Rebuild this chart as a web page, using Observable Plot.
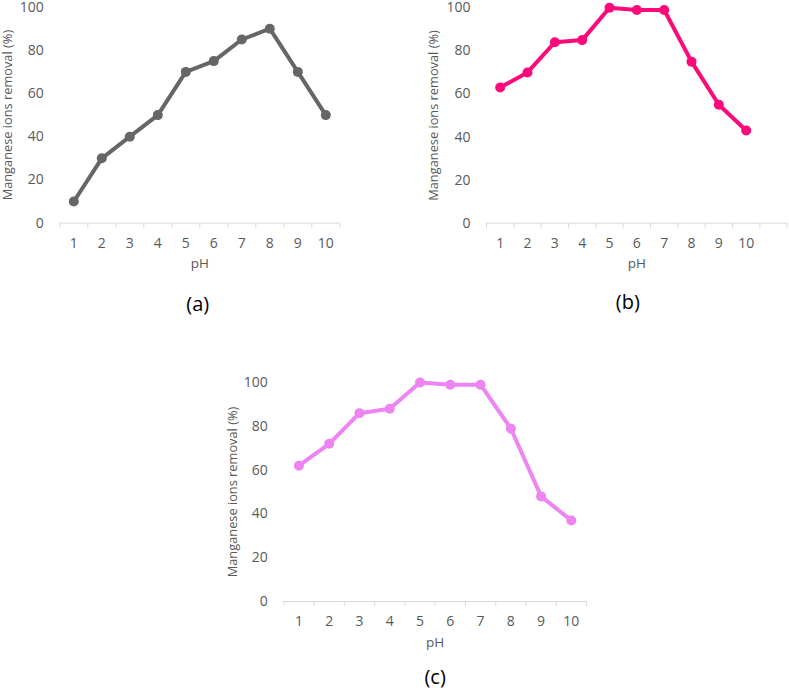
<!DOCTYPE html>
<html>
<head>
<meta charset="utf-8">
<script src="https://cdn.jsdelivr.net/npm/d3@7"></script>
<script src="https://cdn.jsdelivr.net/npm/@observablehq/plot@0.6"></script>
<style>
  html, body { margin: 0; padding: 0; background: #fff; }
  #wrap { position: relative; width: 789px; height: 691px; overflow: hidden; }
  .panel { position: absolute; }
</style>
</head>
<body>
<div id="wrap"></div>
<script>
const ph = [1, 2, 3, 4, 5, 6, 7, 8, 9, 10];
const removalA = [10, 30, 40, 50, 70, 75, 85, 90, 70, 50];
const removalB = [63, 70, 84, 85, 100, 99, 99, 75, 55, 43];
const removalC = [62, 72, 86, 88, 100, 99, 99, 79, 48, 37];
const yTicks = [0, 20, 40, 60, 80, 100];
const yLabel = "Manganese ions removal (%)";
const xLabel = "pH";
const captions = ["(a)", "(b)", "(c)"];

function panel(values, cfg) {
  const data = ph.map((p, i) => ({ph: p, v: values[i]}));
  const nBands = cfg.bands;
  const bounds = d3.range(nBands + 1).map(i => i + 0.5);
  return Plot.plot({
    width: cfg.width,
    height: cfg.height,
    marginLeft: cfg.ml,
    marginRight: cfg.mr,
    marginTop: cfg.mt,
    marginBottom: cfg.mb,
    style: {fontFamily: "'Open Sans', sans-serif", fontSize: "14px", color: "#595959", background: "transparent", overflow: "visible"},
    x: {type: "linear", domain: [0.5, nBands + 0.5]},
    y: {domain: [0, 100]},
    marks: [
      Plot.ruleY([0], {stroke: "#d9d9d9", strokeWidth: 1}),
      Plot.axisX(bounds, {tickSize: 5, text: null, stroke: "#d9d9d9", label: null}),
      Plot.axisX(ph, {tickSize: 0, tickPadding: 15, fontSize: 14, tickFormat: d => String(d), label: null, fill: "#595959"}),
      Plot.axisY(yTicks, {tickSize: 0, tickPadding: 16, fontSize: 14, tickFormat: d => String(d), label: null, fill: "#595959"}),
      Plot.line(data, {x: "ph", y: "v", stroke: cfg.color, strokeWidth: 4, strokeLinejoin: "round"}),
      Plot.dot(data, {x: "ph", y: "v", fill: cfg.color, r: 5}),
      Plot.text([yLabel], {frameAnchor: "left", textAnchor: "middle", rotate: -90, dx: cfg.ylDx, fontSize: 12.8, fill: "#595959"}),
      Plot.text([xLabel], {frameAnchor: "bottom", dy: cfg.xlDy, fontSize: 13.5, fill: "#595959"}),
      Plot.text([cfg.caption], {frameAnchor: "bottom", dy: cfg.capDy, dx: cfg.capDx, fontSize: 20, fill: "#000"})
    ]
  });
}

const wrap = document.getElementById("wrap");
function place(node, left, top) {
  const d = document.createElement("div");
  d.className = "panel";
  d.style.left = left + "px";
  d.style.top = top + "px";
  d.appendChild(node);
  wrap.appendChild(d);
}

place(panel(removalA, {bands: 10, width: 345, height: 330, ml: 59.3, mr: 5.7, mt: 6.6, mb: 107.4,
  color: "#666666", ylDx: -51.5, xlDy: 44.5, capDy: 87.5, capDx: -2, caption: captions[0]}), 0, 0);
place(panel(removalB, {bands: 11, width: 369, height: 330, ml: 66, mr: 2.3, mt: 7.3, mb: 107.3,
  color: "#fc0a7a", ylDx: -53, xlDy: 44.5, capDy: 85.5, capDx: -9, caption: captions[1]}), 420, 0);
place(panel(removalC, {bands: 10, width: 380, height: 331, ml: 73.3, mr: 4, mt: 22, mb: 90,
  color: "#ee84f3", ylDx: -50.6, xlDy: 45, capDy: 82, capDx: 0, caption: captions[2]}), 210, 360);
</script>
</body>
</html>
